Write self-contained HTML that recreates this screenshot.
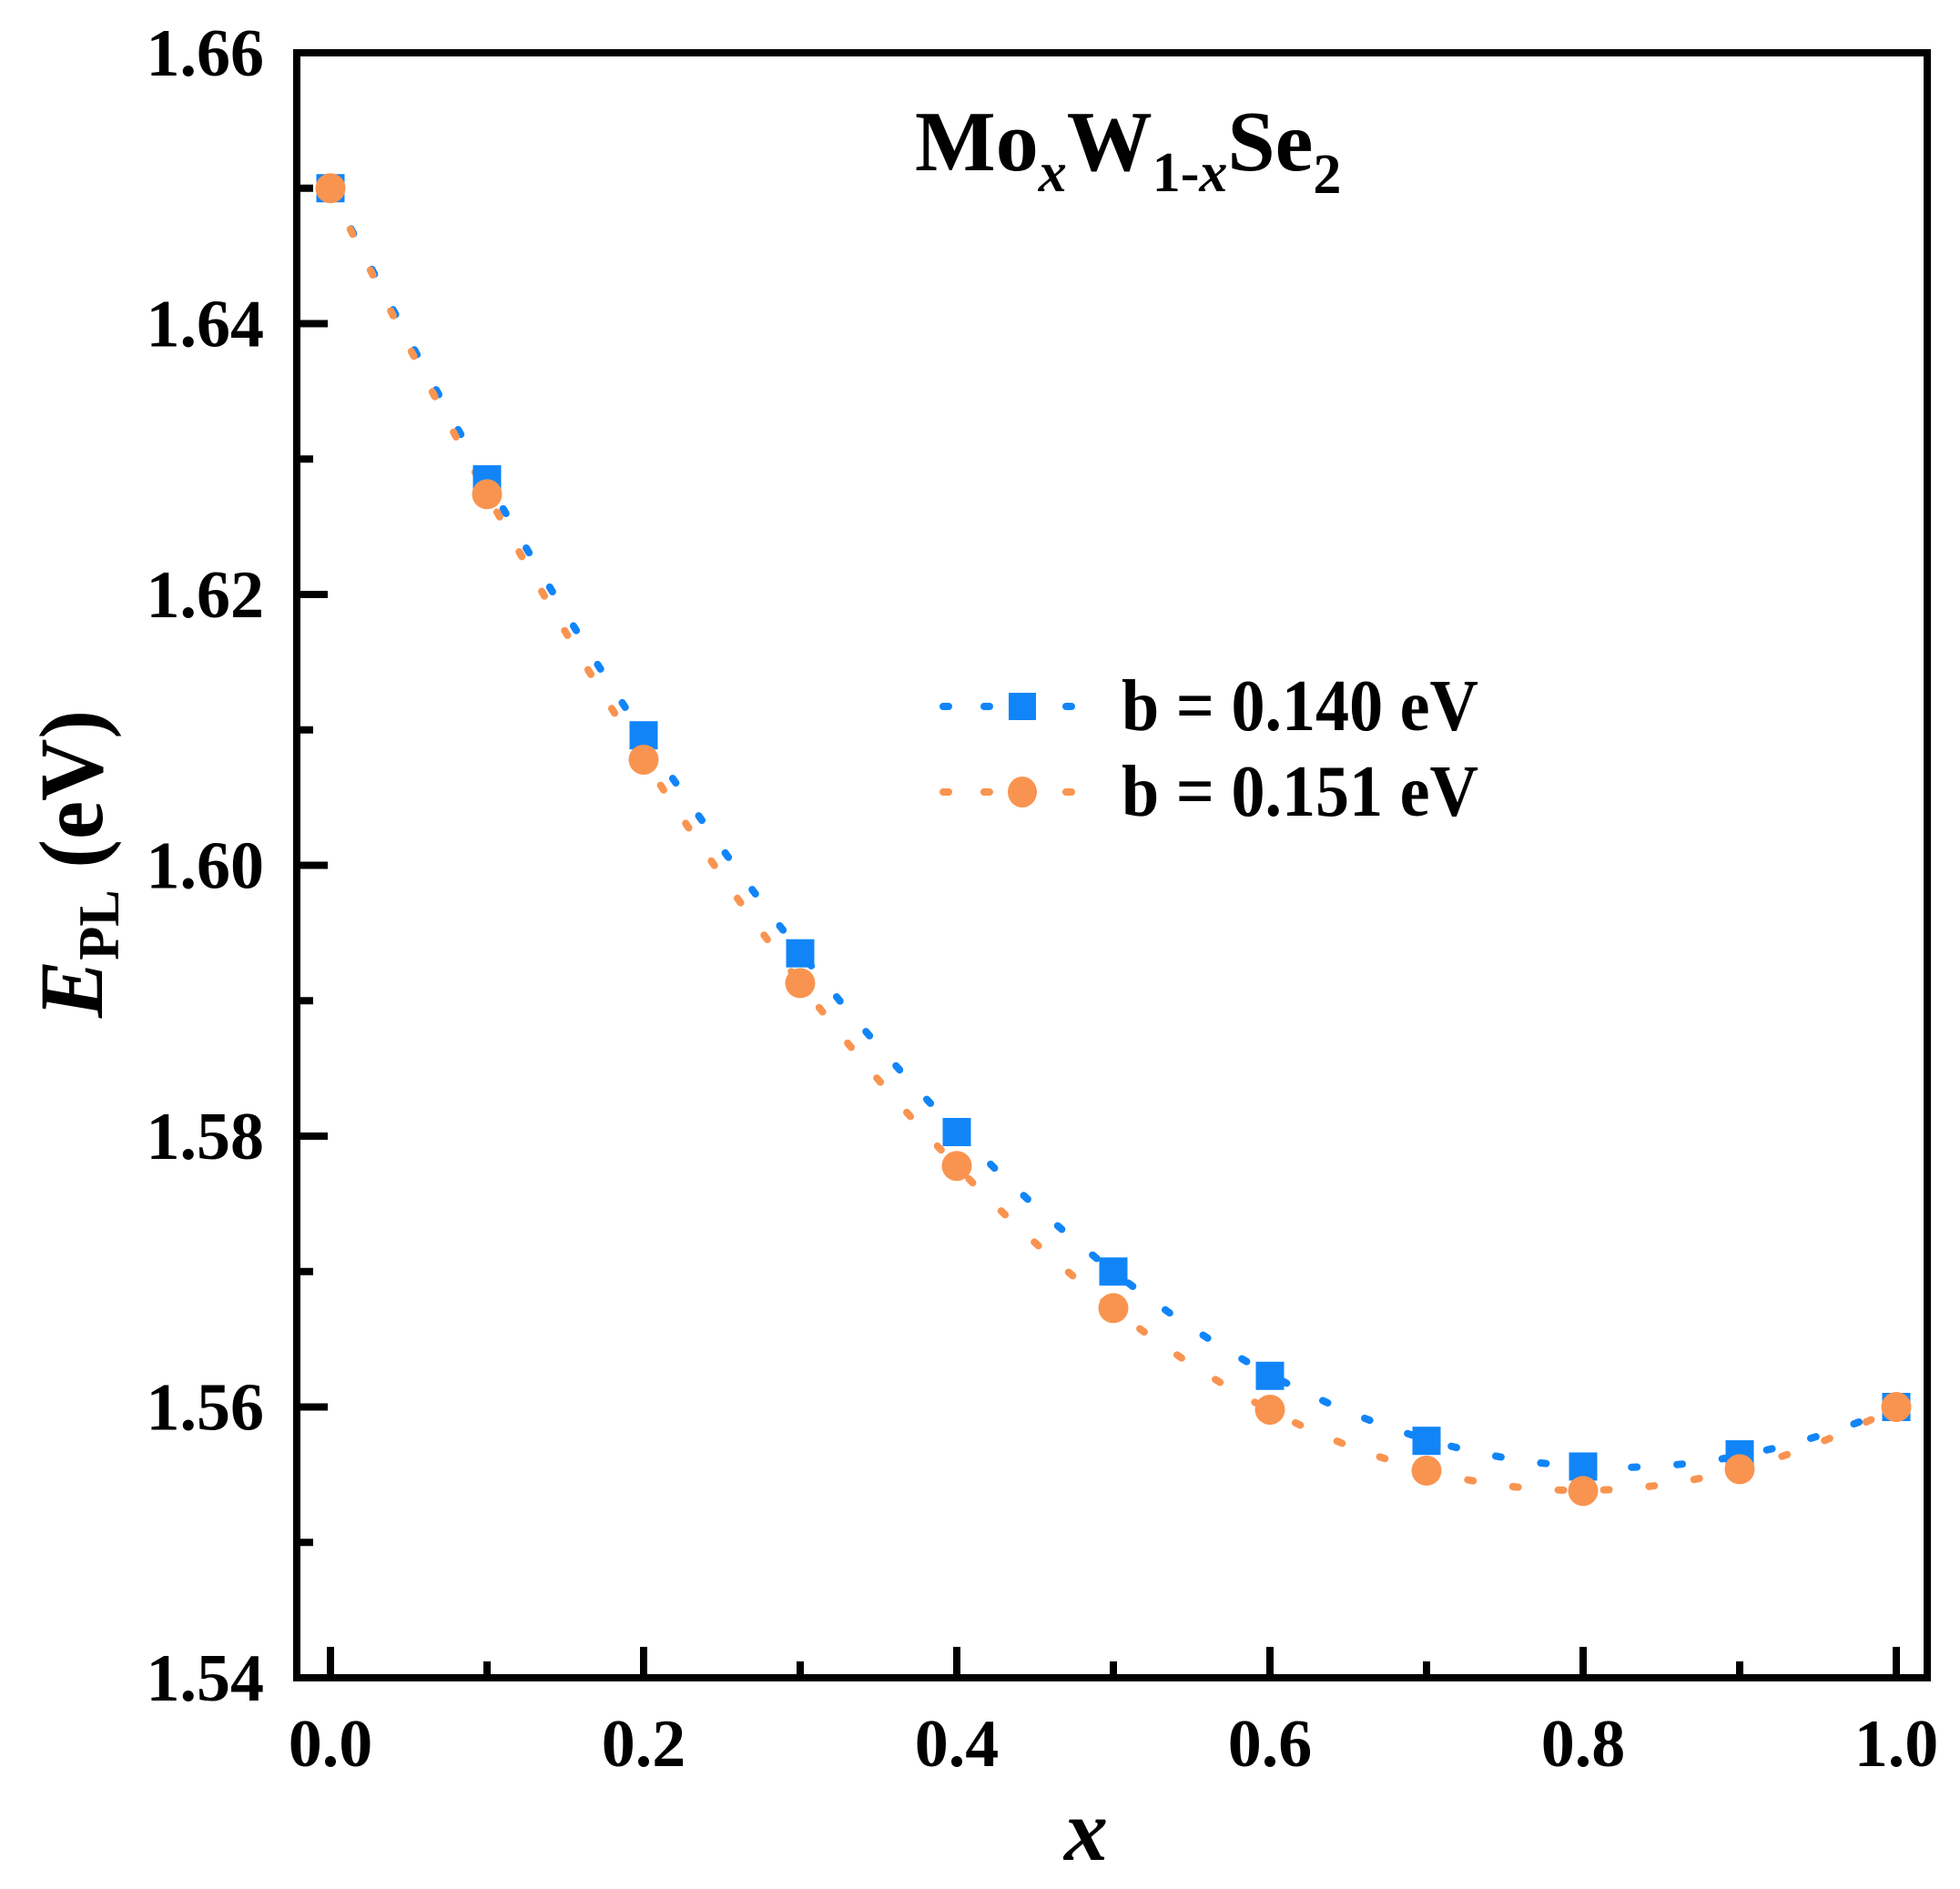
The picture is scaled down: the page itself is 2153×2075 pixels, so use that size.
<!DOCTYPE html>
<html><head><meta charset="utf-8"><style>html,body{margin:0;padding:0;background:#fff}svg{display:block}</style></head>
<body>
<svg xmlns="http://www.w3.org/2000/svg" width="2153" height="2075" viewBox="0 0 2153 2075">
<rect width="2153" height="2075" fill="#fff"/>
<g id="curves" fill="none" stroke-width="8" stroke-linecap="round" stroke-dasharray="6 44">
<path id="cb" stroke="#1185F8" d=""/>
<path id="co" stroke="#F99450" d=""/>
</g>
<g id="pts"></g>
<rect x="326" y="58" width="1791" height="1785" fill="none" stroke="#000" stroke-width="8"/>
<g stroke="#000" stroke-width="8" id="ticks"></g>
<g font-family="'Liberation Serif',serif" font-weight="bold" font-size="74" fill="#000" id="labels"></g>
<text x="1005" y="187" font-family="'Liberation Serif',serif" font-weight="bold" font-size="94">Mo<tspan font-size="62" font-style="italic" dy="23">x</tspan><tspan dy="-23">W</tspan><tspan font-size="62" dy="23">1-<tspan font-style="italic">x</tspan></tspan><tspan dy="-23">Se</tspan><tspan font-size="62" dy="25">2</tspan></text>
<g stroke-width="8" stroke-linecap="round" fill="none">
<path d="M1036 776 H1210" stroke="#1185F8" stroke-dasharray="6 39"/>
<path d="M1036 870 H1210" stroke="#F99450" stroke-dasharray="6 39"/>
</g>
<rect x="1108" y="761" width="30" height="30" fill="#1185F8"/>
<ellipse cx="1123" cy="870" rx="16" ry="17" fill="#F99450"/>
<g font-family="'Liberation Serif',serif" font-weight="bold" font-size="80">
<text x="1232" y="802" textLength="392" lengthAdjust="spacingAndGlyphs">b = 0.140 eV</text>
<text x="1232" y="896" textLength="392" lengthAdjust="spacingAndGlyphs">b = 0.151 eV</text>
</g>
<text x="1193" y="2043" text-anchor="middle" font-family="'Liberation Serif',serif" font-weight="bold" font-style="italic" font-size="96">x</text>
<text transform="translate(112,949) rotate(-90)" text-anchor="middle" font-family="'Liberation Serif',serif" font-weight="bold" font-size="100" textLength="338" lengthAdjust="spacingAndGlyphs"><tspan font-style="italic">E</tspan><tspan font-size="64" dy="18">PL</tspan><tspan dy="-18"> (eV)</tspan></text>
<script>
const X=x=>363+1720*x, Y=v=>58+(1.66-v)*14875;
const f=(x,b)=>1.65*(1-x)+1.56*x-b*x*(1-x);
function path(b){let d='';for(let i=0;i<=200;i++){const x=i/200;d+=(i?'L':'M')+X(x).toFixed(1)+' '+Y(f(x,b)).toFixed(1);}return d;}
document.getElementById('cb').setAttribute('d',path(0.140));
document.getElementById('co').setAttribute('d',path(0.151));
const ns='http://www.w3.org/2000/svg';
const blue=[1.65,1.6285,1.6096,1.5935,1.5803,1.570,1.5623,1.5575,1.5556,1.5565,1.560];
const orng=[1.65,1.6274,1.6078,1.5913,1.5778,1.5673,1.5598,1.5553,1.5538,1.5554,1.560];
const pts=document.getElementById('pts');
for(let i=0;i<=10;i++){const x=X(i/10);
 let r=document.createElementNS(ns,'rect');r.setAttribute('x',x-15.5);r.setAttribute('y',Y(blue[i])-15.5);r.setAttribute('width',31);r.setAttribute('height',31);r.setAttribute('fill','#1185F8');pts.appendChild(r);}
for(let i=0;i<=10;i++){const x=X(i/10);
 let c=document.createElementNS(ns,'circle');c.setAttribute('cx',x);c.setAttribute('cy',Y(orng[i]));c.setAttribute('r',16.5);c.setAttribute('fill','#F99450');pts.appendChild(c);}
const tk=document.getElementById('ticks'), lb=document.getElementById('labels');
function line(x1,y1,x2,y2){let l=document.createElementNS(ns,'line');l.setAttribute('x1',x1);l.setAttribute('y1',y1);l.setAttribute('x2',x2);l.setAttribute('y2',y2);tk.appendChild(l);}
function text(x,y,s,a){let t=document.createElementNS(ns,'text');t.setAttribute('x',x);t.setAttribute('y',y);t.setAttribute('text-anchor',a);t.textContent=s;lb.appendChild(t);}
for(let i=0;i<=10;i++){const x=X(i/10);const maj=i%2==0;line(x,1843,x,1843-(maj?34:18));if(maj)text(x,1940,(i/10).toFixed(1),'middle');}
for(let i=0;i<=12;i++){const v=1.54+i*0.01;const y=Y(v);const maj=i%2==0;line(326,y,326+(maj?34:18),y);if(maj)text(290,y+25,v.toFixed(2),'end');}
</script>
</svg>
</body></html>
